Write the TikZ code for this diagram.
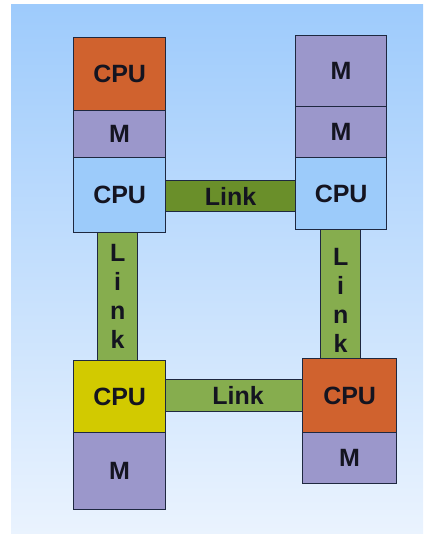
\documentclass[tikz,border=0pt]{standalone}
\usepackage{fontspec}
\setmainfont{Liberation Sans}
\definecolor{bgtop}{HTML}{9ECBFC}
\definecolor{bgbot}{HTML}{EAF3FE}
\definecolor{edge}{HTML}{1E2840}
\definecolor{ink}{HTML}{141420}
\definecolor{cpuorange}{HTML}{D0622E}
\definecolor{cpublue}{HTML}{9CCBFA}
\definecolor{cpuyellow}{HTML}{D2CA00}
\definecolor{mem}{HTML}{9B97CB}
\definecolor{linkdark}{HTML}{6A8F2A}
\definecolor{linklight}{HTML}{86AD4E}
\newcommand{\lblfont}{\fontsize{25}{29}\selectfont\bfseries}
\begin{document}
\begin{tikzpicture}[x=1pt,y=-1pt,
  unit/.style={draw=edge, line width=1.3pt, inner sep=0pt, font=\lblfont,
    text=ink, anchor=north west},
  linkbar/.style={unit, align=center},
  linktext/.style={font=\lblfont, text=ink, align=center, inner sep=0pt}]
  \useasboundingbox (0,0) rectangle (423,534);
  \fill[white] (0,0) rectangle (423,534);
  \shade[top color=bgtop, bottom color=bgbot] (11,5) rectangle (423,534);

  % links, drawn first so the boxes cover their ends
  \node[linkbar, fill=linkdark, minimum width=134pt, minimum height=31pt]
    (linkT) at (163,180) {Link};
  \node[linkbar, fill=linklight, minimum width=141pt, minimum height=32pt]
    (linkB) at (163,379) {\hspace*{8pt}Link};
  \node[linkbar, fill=linklight, minimum width=40pt, minimum height=134pt]
    (linkL) at (97,229) {L\\i\\n\\k};
  \node[linkbar, fill=linklight, minimum width=40pt, minimum height=134pt]
    (linkR) at (320,226) {};
  \node[linktext, yshift=-7pt] (linkRtext) at (linkR.center) {L\\i\\n\\k};

  % top-left stack
  \node[unit, fill=cpuorange, minimum width=92pt, minimum height=73pt] (cpuA) at (73,37) {CPU};
  \node[unit, fill=mem, minimum width=92pt, minimum height=47pt] (memA) at (73,110) {M};
  \node[unit, fill=cpublue, minimum width=92pt, minimum height=75pt] (cpuB) at (73,157) {CPU};

  % top-right stack
  \node[unit, fill=mem, minimum width=91pt, minimum height=71pt] (memB) at (295,35) {M};
  \node[unit, fill=mem, minimum width=91pt, minimum height=51pt] (memC) at (295,106) {M};
  \node[unit, fill=cpublue, minimum width=91pt, minimum height=72pt] (cpuC) at (295,157) {CPU};

  % bottom-left stack
  \node[unit, fill=cpuyellow, minimum width=92pt, minimum height=72pt] (cpuD) at (73,360) {CPU};
  \node[unit, fill=mem, minimum width=92pt, minimum height=77pt] (memD) at (73,432) {M};

  % bottom-right stack
  \node[unit, fill=cpuorange, minimum width=94pt, minimum height=74pt] (cpuE) at (302,358) {CPU};
  \node[unit, fill=mem, minimum width=94pt, minimum height=51pt] (memE) at (302,432) {M};
\end{tikzpicture}
\end{document}
